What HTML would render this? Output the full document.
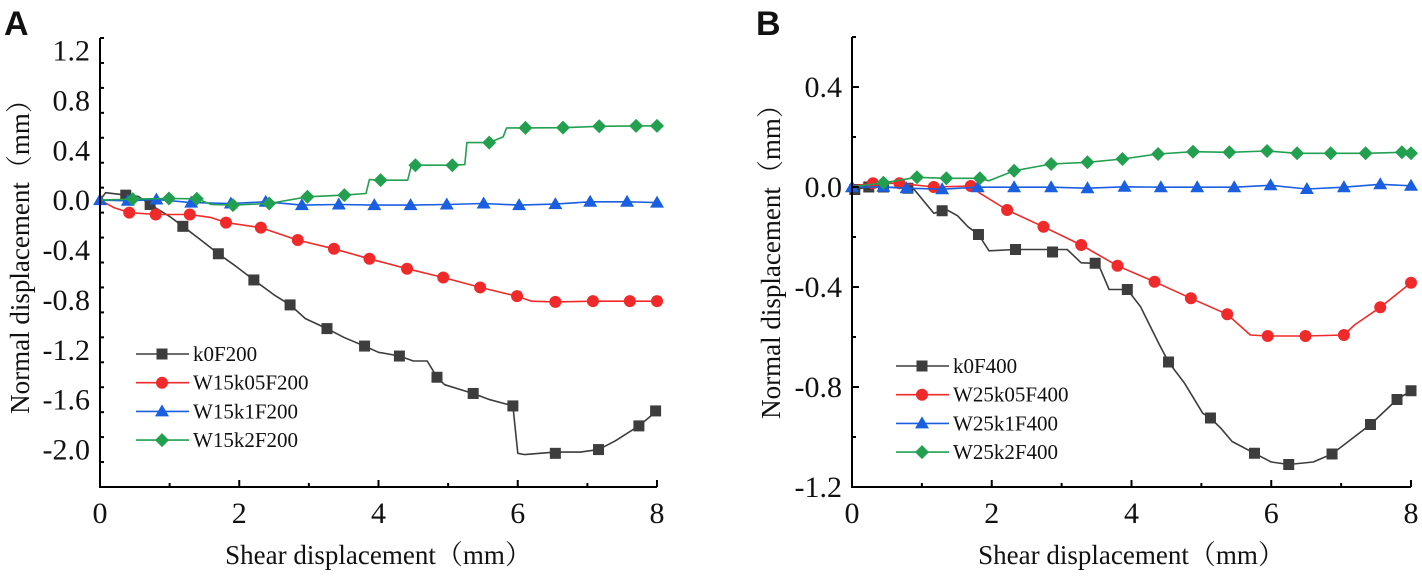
<!DOCTYPE html>
<html><head><meta charset="utf-8"><style>
html,body{margin:0;padding:0;background:#fff;}
svg{display:block;}
text{font-family:"Liberation Serif","Noto Serif CJK SC",serif;fill:#111;}
.lbl{font-family:"Liberation Sans",sans-serif;font-weight:bold;}
</style></head><body>
<svg id="chart" width="1422" height="581" viewBox="0 0 1422 581" xmlns="http://www.w3.org/2000/svg"></svg>
<script>
// ---- Panel A data ----
const aK0X=[0,0.08,0.37,0.55,0.72,1.0,1.19,1.45,1.70,1.95,2.21,2.5,2.73,2.95,3.26,3.5,3.80,4.0,4.30,4.5,4.7,4.84,4.95,5.36,5.6,5.93,6.0,6.1,6.54,6.9,7.16,7.4,7.74,8.0];
const aK0Y=[0,0.06,0.04,0.03,-0.035,-0.13,-0.21,-0.32,-0.43,-0.53,-0.64,-0.76,-0.84,-0.95,-1.03,-1.1,-1.17,-1.22,-1.25,-1.29,-1.29,-1.42,-1.48,-1.55,-1.6,-1.65,-2.03,-2.04,-2.02,-2.02,-2.0,-1.93,-1.81,-1.69];
const aK0MX=[0.37,0.72,1.19,1.70,2.21,2.73,3.26,3.80,4.30,4.84,5.36,5.93,6.54,7.16,7.74,7.98];
const aK0MY=[0.04,-0.035,-0.21,-0.43,-0.64,-0.84,-1.03,-1.17,-1.25,-1.42,-1.55,-1.65,-2.03,-2.0,-1.81,-1.69];
const aRX=[0,0.2,0.42,0.80,1.29,1.6,1.81,2.31,2.84,3.36,3.87,4.41,4.93,5.46,5.99,6.2,6.54,7.08,7.61,8.0];
const aRY=[0,-0.06,-0.10,-0.115,-0.115,-0.14,-0.18,-0.22,-0.32,-0.39,-0.47,-0.55,-0.62,-0.70,-0.77,-0.81,-0.816,-0.81,-0.81,-0.81];
const aRMX=[0.42,0.80,1.29,1.81,2.31,2.84,3.36,3.87,4.41,4.93,5.46,5.99,6.54,7.08,7.61,8.0];
const aRMY=[-0.10,-0.115,-0.115,-0.18,-0.22,-0.32,-0.39,-0.47,-0.55,-0.62,-0.70,-0.77,-0.816,-0.81,-0.81,-0.81];
const aBX=[0,0.4,0.81,1.31,1.88,2.38,2.90,3.43,3.94,4.46,4.98,5.51,6.02,6.54,7.04,7.57,8.0];
const aBY=[0,-0.005,0.005,-0.02,-0.027,-0.013,-0.04,-0.035,-0.04,-0.04,-0.035,-0.027,-0.04,-0.032,-0.013,-0.013,-0.02];
const aGX=[0,0.47,0.99,1.39,1.60,1.91,2.43,2.98,3.51,3.82,3.87,4.03,4.42,4.47,4.53,5.06,5.24,5.27,5.59,5.79,5.84,6.11,6.65,7.17,7.70,8.0];
const aGY=[0,0.008,0.013,0.011,-0.035,-0.04,-0.027,0.027,0.04,0.053,0.165,0.16,0.16,0.272,0.28,0.28,0.285,0.461,0.461,0.507,0.579,0.579,0.581,0.592,0.595,0.595];
const aGMX=[0.47,0.99,1.39,1.91,2.43,2.98,3.51,4.03,4.53,5.06,5.59,6.11,6.65,7.17,7.70,8.0];
const aGMY=[0.008,0.013,0.011,-0.04,-0.027,0.027,0.04,0.16,0.28,0.28,0.461,0.579,0.581,0.592,0.595,0.595];
const aYTicks=[1.2,0.8,0.4,0.0,-0.4,-0.8,-1.2,-1.6,-2.0];
const aYTickLabels=["1.2","0.8","0.4","0.0","-0.4","-0.8","-1.2","-1.6","-2.0"];
const aLegend=["k0F200","W15k05F200","W15k1F200","W15k2F200"];
// ---- Panel B data ----
const bK0X=[0,0.04,0.24,0.45,0.80,0.89,1.17,1.29,1.36,1.51,1.66,1.81,1.96,2.34,2.87,3.08,3.28,3.48,3.55,3.68,3.94,4.13,4.39,4.53,4.76,5.02,5.13,5.28,5.44,5.76,6.0,6.25,6.6,6.87,7.42,7.80,8.0];
const bK0Y=[-0.01,-0.01,0,0,-0.005,-0.01,-0.105,-0.095,-0.092,-0.115,-0.159,-0.19,-0.255,-0.25,-0.25,-0.25,-0.303,-0.305,-0.325,-0.41,-0.41,-0.479,-0.626,-0.70,-0.785,-0.905,-0.924,-0.965,-1.018,-1.065,-1.10,-1.11,-1.10,-1.068,-0.95,-0.85,-0.815];
const bK0MX=[0.04,0.24,0.45,0.80,1.29,1.81,2.34,2.87,3.48,3.94,4.53,5.13,5.76,6.25,6.87,7.42,7.80,8.0];
const bK0MY=[-0.01,0,0,-0.005,-0.095,-0.19,-0.25,-0.26,-0.305,-0.41,-0.70,-0.924,-1.065,-1.11,-1.068,-0.95,-0.85,-0.815];
const bRX=[0,0.30,0.68,1.17,1.70,1.83,2.22,2.74,3.28,3.80,4.33,4.85,5.37,5.70,5.95,6.49,7.04,7.19,7.56,8.0];
const bRY=[0.004,0.015,0.015,0,0.004,-0.025,-0.092,-0.159,-0.232,-0.315,-0.379,-0.445,-0.509,-0.592,-0.596,-0.596,-0.592,-0.552,-0.481,-0.383];
const bRMX=[0.30,0.68,1.17,1.70,2.22,2.74,3.28,3.80,4.33,4.85,5.37,5.95,6.49,7.04,7.56,8.0];
const bRMY=[0.015,0.015,0,0.004,-0.092,-0.159,-0.232,-0.315,-0.379,-0.445,-0.509,-0.596,-0.596,-0.592,-0.481,-0.383];
const bBX=[0,0.45,0.78,1.29,1.80,2.32,2.85,3.37,3.90,4.42,4.94,5.47,5.99,6.51,7.04,7.56,8.0];
const bBY=[-0.001,0.001,-0.005,-0.009,-0.001,-0.001,-0.001,-0.005,0.001,-0.001,-0.001,-0.001,0.007,-0.008,-0.001,0.011,0.005];
const bGX=[0,0.45,0.93,1.35,1.83,1.96,2.32,2.85,3.37,3.87,4.38,4.88,5.40,5.94,6.37,6.85,7.35,7.87,8.0];
const bGY=[0.001,0.017,0.039,0.035,0.035,0.025,0.065,0.092,0.099,0.112,0.132,0.141,0.139,0.144,0.135,0.135,0.135,0.139,0.135];
const bGMX=[0.45,0.93,1.35,1.83,2.32,2.85,3.37,3.87,4.38,4.88,5.40,5.94,6.37,6.85,7.35,7.87,8.0];
const bGMY=[0.017,0.039,0.035,0.035,0.065,0.092,0.099,0.112,0.132,0.141,0.139,0.144,0.135,0.135,0.135,0.139,0.135];
const bYTicks=[0.4,0.0,-0.4,-0.8,-1.2];
const bYTickLabels=["0.4","0.0","-0.4","-0.8","-1.2"];
const bLegend=["k0F400","W25k05F400","W25k1F400","W25k2F400"];
const xTicks=[0,2,4,6,8];
const xTickLabels=["0","2","4","6","8"];

const NS="http://www.w3.org/2000/svg";
const svg=document.getElementById('chart');
const COLORS=["#3d3d3d","#f02a2a","#1a5fe0","#22a050"];
const SHAPES=["square","circle","triangle","diamond"];
function mk(tag,attrs,parent){const e=document.createElementNS(NS,tag);for(const k in attrs)e.setAttribute(k,attrs[k]);(parent||svg).appendChild(e);return e;}
function marker(g,shape,cx,cy,color){
  let e;
  if(shape==="square")e=mk('rect',{x:cx-5.5,y:cy-5.5,width:11,height:11,fill:color},g);
  else if(shape==="circle")e=mk('circle',{cx:cx,cy:cy,r:6,fill:color},g);
  else if(shape==="triangle")e=mk('polygon',{points:`${cx},${cy-7} ${cx+7},${cy+5} ${cx-7},${cy+5}`,fill:color},g);
  else e=mk('polygon',{points:`${cx},${cy-7} ${cx+7},${cy} ${cx},${cy+7} ${cx-7},${cy}`,fill:color},g);
  return e;
}
function panel(p){
  const sx=v=>p.x0+(v-p.xmin)/(p.xmax-p.xmin)*(p.x1-p.x0);
  const sy=v=>p.y1-(v-p.ymin)/(p.ymax-p.ymin)*(p.y1-p.y0);
  const g=mk('g',{});
  
  
  const lab=mk('text',{x:p.lx,y:35,'font-size':34,class:'lbl'},g);lab.textContent=p.label;
  
  
  p.series.forEach((s,i)=>{
    const sg=mk('g',{},g);
    
    
    const pts=s.x.map((v,j)=>sx(v).toFixed(1)+','+sy(s.y[j]).toFixed(1)).join(' ');
    const pl=mk('polyline',{points:pts,fill:'none',stroke:COLORS[i],'stroke-width':1.6,'stroke-linejoin':'round'},sg);
    
    
    s.mx.forEach((v,j)=>{const m=marker(sg,SHAPES[i],sx(v),sy(s.my[j]),COLORS[i]);
      
      });
  });
  const ax=mk('path',{d:`M${p.x0},${p.y0} V${p.y1} H${p.x1}`,fill:'none',stroke:'#000','stroke-width':2},g);
  
  
  for(let v=p.xmin;v<=p.xmax+1e-9;v+=1){const X=sx(v);const major=Math.abs(v%2)<1e-9;
    mk('line',{x1:X,y1:p.y1,x2:X,y2:p.y1-(major?7:4),stroke:'#000','stroke-width':2},g);}
  xTicks.forEach((v,i)=>{const t=mk('text',{x:sx(v),y:p.y1+36,'font-size':30,'text-anchor':'middle'},g);t.textContent=xTickLabels[i];
    
    });
  for(let k=0;;k++){const v=p.ymin+k*p.minor;if(v>p.ymax+1e-9)break;const Y=sy(v);
    const major=p.yticks.some(t=>Math.abs(t-v)<1e-6);
    mk('line',{x1:p.x0,y1:Y,x2:p.x0+(major?7:4),y2:Y,stroke:'#000','stroke-width':2},g);}
  p.yticks.forEach((v,i)=>{const t=mk('text',{x:p.x0-10,y:sy(v)+10,'font-size':30,'text-anchor':'end'},g);t.textContent=p.ylabels[i];
    
    });
  const xt=mk('text',{x:(p.x0+p.x1)/2,y:564,'font-size':27,'text-anchor':'middle'},g);xt.textContent='Shear displacement（mm）';
  
  
  const yt=mk('text',{x:0,y:0,'font-size':27,'text-anchor':'middle',transform:`translate(${p.ytx},${p.yty}) rotate(-90)`},g);yt.textContent='Normal displacement（mm）';
  
  
  const lg=mk('g',{},g);
  
  
  p.legend.forEach((name,i)=>{const Y=p.legY+i*28.7;
    const e=mk('g',{},lg);
    
    
    mk('line',{x1:p.legX,y1:Y,x2:p.legX+53,y2:Y,stroke:COLORS[i],'stroke-width':1.6},e);
    marker(e,SHAPES[i],p.legX+26,Y,COLORS[i]);
    const t=mk('text',{x:p.legX+57,y:Y+7,'font-size':21},e);t.textContent=name;});
}
panel({name:'panel-a',label:'A',lx:4,x0:100,x1:657,y0:38,y1:487,xmin:0,xmax:8,ymin:-2.3,ymax:1.3,minor:0.2,
  yticks:aYTicks,ylabels:aYTickLabels,ytx:29,yty:250,legX:136,legY:354,legend:aLegend,
  series:[{name:'k0F200',x:aK0X,y:aK0Y,mx:aK0MX,my:aK0MY},{name:'W15k05F200',x:aRX,y:aRY,mx:aRMX,my:aRMY},
          {name:'W15k1F200',x:aBX,y:aBY,mx:aBX,my:aBY},{name:'W15k2F200',x:aGX,y:aGY,mx:aGMX,my:aGMY}]});
panel({name:'panel-b',label:'B',lx:756,x0:852,x1:1411,y0:37,y1:487,xmin:0,xmax:8,ymin:-1.2,ymax:0.6,minor:0.2,
  yticks:bYTicks,ylabels:bYTickLabels,ytx:780,yty:255,legX:896,legY:366,legend:bLegend,
  series:[{name:'k0F400',x:bK0X,y:bK0Y,mx:bK0MX,my:bK0MY},{name:'W25k05F400',x:bRX,y:bRY,mx:bRMX,my:bRMY},
          {name:'W25k1F400',x:bBX,y:bBY,mx:bBX,my:bBY},{name:'W25k2F400',x:bGX,y:bGY,mx:bGMX,my:bGMY}]});
</script>
</body></html>
